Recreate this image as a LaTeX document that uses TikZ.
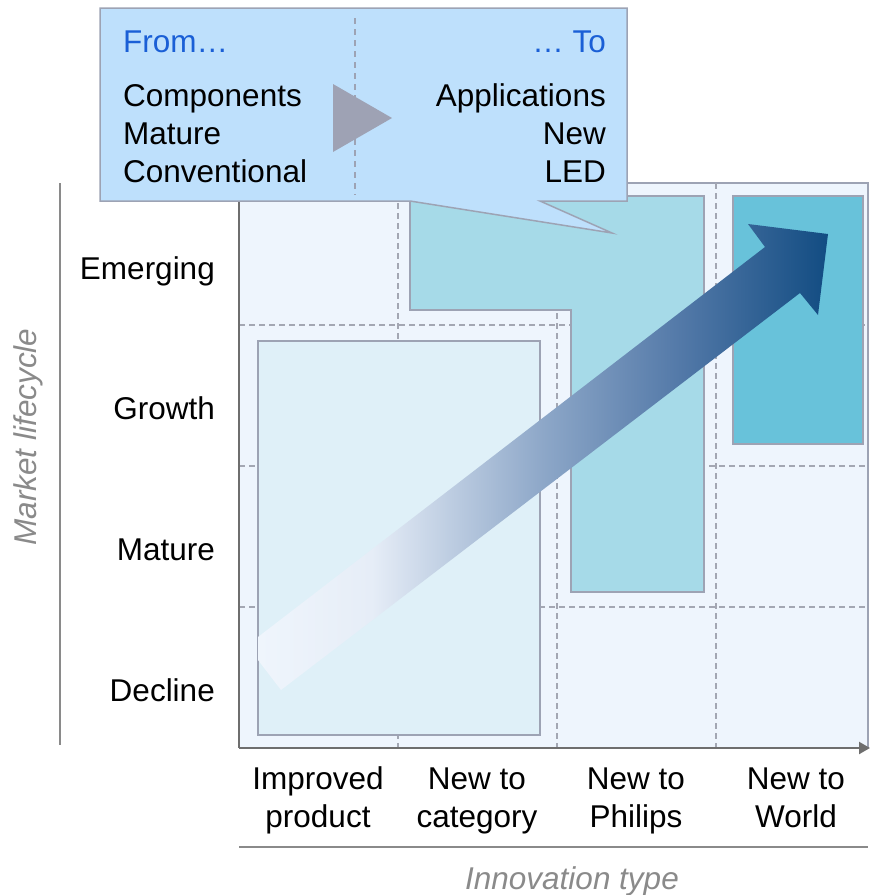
\documentclass[tikz,border=0pt]{standalone}
\usepackage{fontspec}
\setmainfont{Liberation Sans}
\usetikzlibrary{arrows.meta}
\definecolor{plotbg}{HTML}{EEF5FD}
\definecolor{lightbox}{HTML}{DFF0F8}
\definecolor{midteal}{HTML}{A6DAE8}
\definecolor{darkteal}{HTML}{68C2DA}
\definecolor{boxline}{HTML}{9DA3B4}
\definecolor{gridline}{HTML}{A3A7B3}
\definecolor{axisgray}{HTML}{6E6E6E}
\definecolor{decogray}{HTML}{8A8A8A}
\definecolor{callfill}{HTML}{BEE0FC}
\definecolor{trigray}{HTML}{9EA2B4}
\definecolor{fromblue}{HTML}{1A5FD6}
\definecolor{arA}{HTML}{EFF5FC}
\definecolor{arB}{HTML}{E6EDF7}
\definecolor{arM}{HTML}{8DA7C8}
\definecolor{arN}{HTML}{5379A8}
\definecolor{arD}{HTML}{124C82}
\pgfdeclarehorizontalshading{arrowgrad}{100bp}{color(0bp)=(arA); color(25bp)=(arA); color(35bp)=(arB); color(50bp)=(arM); color(62bp)=(arN); color(75bp)=(arD); color(100bp)=(arD)}
\begin{document}
\begin{tikzpicture}[x=1pt,y=-1pt,
  txt/.style={font=\fontsize{31.5}{36}\selectfont, inner sep=0pt},
  ttl/.style={font=\fontsize{31.5}{36}\selectfont\itshape, text=decogray, inner sep=0pt},
  gridl/.style={draw=gridline, line width=1.5pt, dash pattern=on 6pt off 4pt},
  boxs/.style={draw=boxline, line width=1.5pt},
  axisl/.style={draw=axisgray, line width=2.2pt},
  decol/.style={draw=decogray, line width=2pt},
  callout/.style={draw=boxline, line width=1.5pt, fill=callfill}]
\useasboundingbox (0,0) rectangle (870,895);
% plot background
\fill[plotbg] (239,183) rectangle (868,748);
\draw[boxline, line width=1.5pt] (239,183) -- (868,183) -- (868,748);
% grid
\foreach \y in {325,466,607} \draw[gridl] (239,\y) -- (868,\y);
\foreach \x in {398,557,716} \draw[gridl] (\x,183) -- (\x,748);
% boxes
\draw[boxs, fill=lightbox] (258,341) rectangle (540,735);
\draw[boxs, fill=midteal] (410,196) -- (704,196) -- (704,592) -- (571,592) -- (571,310) -- (410,310) -- cycle;
\draw[boxs, fill=darkteal] (733,196) rectangle (863,444);
% big arrow
\shade[shading=arrowgrad] (258,637) -- (765,247) -- (748,224) -- (828,234) -- (818,315) -- (800,293) -- (281,690) -- (258,660) -- cycle;
% axes
\coordinate (ytop) at (239,183);
\coordinate (origin) at (239,748);
\coordinate (xend) at (870,748);
\draw[axisl] (ytop) -- (origin);
\draw[axisl, -{Triangle[length=11pt,width=12pt]}] (origin) -- (xend);
% decorative axis title lines
\coordinate (dl1) at (60,183);
\coordinate (dl2) at (60,745);
\draw[decol] (dl1) -- (dl2);
\coordinate (db1) at (239,847);
\coordinate (db2) at (868,847);
\draw[decol] (db1) -- (db2);
% row labels
\node[txt, anchor=base east] (emerging) at (215,279) {Emerging};
\node[txt, anchor=base east] (growth) at (215,419) {Growth};
\node[txt, anchor=base east] (mature) at (215,560) {Mature};
\node[txt, anchor=base east] (decline) at (215,701) {Decline};
% column labels
\node[txt, anchor=base] (c1a) at (318,789) {Improved};
\node[txt, anchor=base] (c1b) at (318,827) {product};
\node[txt, anchor=base] (c2a) at (477,789) {New to};
\node[txt, anchor=base] (c2b) at (477,827) {category};
\node[txt, anchor=base] (c3a) at (636,789) {New to};
\node[txt, anchor=base] (c3b) at (636,827) {Philips};
\node[txt, anchor=base] (c4a) at (796,789) {New to};
\node[txt, anchor=base] (c4b) at (796,827) {World};
% axis titles
\node[ttl, anchor=base, rotate=90] (ytitle) at (36,437) {Market lifecycle};
\node[ttl, anchor=base] (xtitle) at (572,889) {Innovation type};
% callout
\draw[callout] (100,8) -- (627,8) -- (627,201) -- (540,201) -- (612,233) -- (410,201) -- (100,201) -- cycle;
\draw[draw=boxline, line width=1.5pt, dash pattern=on 6pt off 5pt] (355,18) -- (355,195);
\fill[trigray] (333,84) -- (392,118) -- (333,152) -- cycle;
\node[txt, anchor=base west, text=fromblue] (from) at (123,52) {From…};
\node[txt, anchor=base east, text=fromblue] (to) at (606,52) {… To};
\node[txt, anchor=base west] (f1) at (123,106) {Components};
\node[txt, anchor=base west] (f2) at (123,144) {Mature};
\node[txt, anchor=base west] (f3) at (123,182) {Conventional};
\node[txt, anchor=base east] (t1) at (606,106) {Applications};
\node[txt, anchor=base east] (t2) at (606,144) {New};
\node[txt, anchor=base east] (t3) at (606,182) {LED};
\end{tikzpicture}
\end{document}
